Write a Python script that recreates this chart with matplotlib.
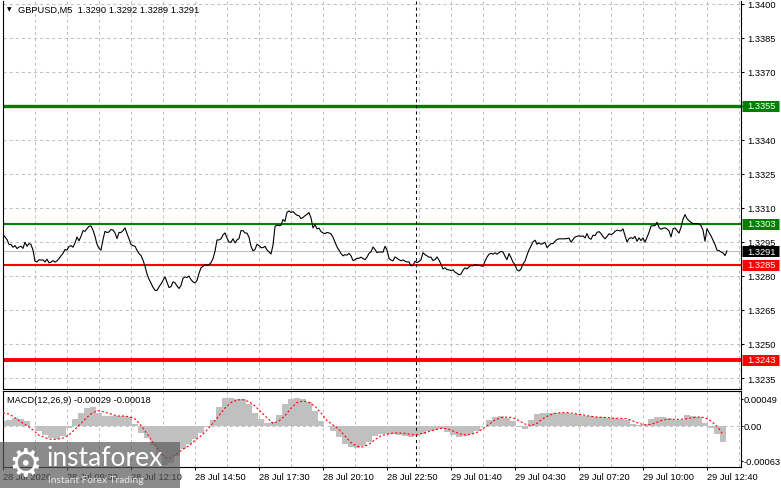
import matplotlib
matplotlib.use("Agg")
import matplotlib.pyplot as plt
import matplotlib.transforms as mtransforms
from matplotlib.patches import Rectangle
import numpy as np

plt.rcParams['font.family'] = ['Liberation Sans', 'DejaVu Sans']
plt.rcParams['lines.scale_dashes'] = False

# ---------------- data ----------------
symbol_title = "GBPUSD,M5  1.3290 1.3292 1.3289 1.3291"
macd_title = "MACD(12,26,9) -0.00029 -0.00018"

close = [
    1.32983, 1.32972, 1.32961, 1.32939, 1.32939, 1.32927, 1.32934, 1.32921, 1.32928, 1.32931,
    1.32922, 1.32949, 1.32931, 1.32943, 1.32939, 1.32914, 1.32865, 1.32862, 1.32872, 1.32870,
    1.32871, 1.32862, 1.32874, 1.32858, 1.32861, 1.32868, 1.32861, 1.32867, 1.32877, 1.32889,
    1.32900, 1.32917, 1.32914, 1.32930, 1.32934, 1.32927, 1.32946, 1.32972, 1.32955, 1.32975,
    1.33000, 1.32997, 1.33009, 1.33019, 1.33021, 1.33002, 1.32975, 1.32940, 1.32922, 1.32914,
    1.32961, 1.32997, 1.32992, 1.32994, 1.33005, 1.33003, 1.32990, 1.32965, 1.32992, 1.32992,
    1.33000, 1.33012, 1.32987, 1.32964, 1.32939, 1.32934, 1.32931, 1.32914, 1.32899, 1.32890,
    1.32870, 1.32843, 1.32809, 1.32786, 1.32768, 1.32750, 1.32737, 1.32736, 1.32752, 1.32765,
    1.32781, 1.32796, 1.32772, 1.32749, 1.32753, 1.32774, 1.32770, 1.32756, 1.32745, 1.32758,
    1.32790, 1.32796, 1.32793, 1.32800, 1.32784, 1.32774, 1.32770, 1.32780, 1.32812, 1.32836,
    1.32843, 1.32850, 1.32847, 1.32850, 1.32859, 1.32877, 1.32909, 1.32959, 1.32959, 1.32964,
    1.32981, 1.32990, 1.32968, 1.32949, 1.32949, 1.32964, 1.32946, 1.32959, 1.32965, 1.33000,
    1.33000, 1.32990, 1.32989, 1.32971, 1.32931, 1.32911, 1.32917, 1.32940, 1.32934, 1.32925,
    1.32925, 1.32931, 1.32915, 1.32906, 1.32897, 1.32936, 1.33019, 1.33024, 1.33022, 1.33024,
    1.33049, 1.33041, 1.33081, 1.33087, 1.33080, 1.33084, 1.33075, 1.33068, 1.33066, 1.33053,
    1.33058, 1.33066, 1.33072, 1.33080, 1.33056, 1.33012, 1.33027, 1.33008, 1.33011, 1.32996,
    1.32990, 1.32987, 1.32992, 1.32990, 1.32986, 1.32971, 1.32949, 1.32928, 1.32914, 1.32899,
    1.32889, 1.32894, 1.32892, 1.32900, 1.32889, 1.32868, 1.32872, 1.32878, 1.32878, 1.32883,
    1.32877, 1.32872, 1.32883, 1.32900, 1.32906, 1.32928, 1.32917, 1.32903, 1.32906, 1.32906,
    1.32905, 1.32931, 1.32914, 1.32878, 1.32870, 1.32867, 1.32884, 1.32878, 1.32872, 1.32867,
    1.32871, 1.32865, 1.32862, 1.32862, 1.32845, 1.32847, 1.32865, 1.32859, 1.32864, 1.32872,
    1.32903, 1.32894, 1.32889, 1.32883, 1.32883, 1.32868, 1.32872, 1.32884, 1.32870, 1.32852,
    1.32831, 1.32836, 1.32828, 1.32827, 1.32824, 1.32827, 1.32817, 1.32812, 1.32805, 1.32809,
    1.32825, 1.32836, 1.32831, 1.32840, 1.32846, 1.32845, 1.32850, 1.32847, 1.32847, 1.32845,
    1.32843, 1.32865, 1.32883, 1.32896, 1.32900, 1.32896, 1.32902, 1.32896, 1.32903, 1.32908,
    1.32906, 1.32887, 1.32872, 1.32899, 1.32881, 1.32861, 1.32850, 1.32827, 1.32822, 1.32831,
    1.32853, 1.32865, 1.32892, 1.32915, 1.32933, 1.32950, 1.32958, 1.32940, 1.32947, 1.32940,
    1.32943, 1.32949, 1.32925, 1.32934, 1.32943, 1.32943, 1.32953, 1.32961, 1.32964, 1.32964,
    1.32964, 1.32964, 1.32965, 1.32967, 1.32949, 1.32961, 1.32972, 1.32975, 1.32977, 1.32975,
    1.32977, 1.32968, 1.32987, 1.32967, 1.32962, 1.32980, 1.32978, 1.32992, 1.32996, 1.32987,
    1.32974, 1.32964, 1.32974, 1.32986, 1.32983, 1.32987, 1.32997, 1.33002, 1.33000, 1.32999,
    1.33008, 1.32978, 1.32950, 1.32965, 1.32969, 1.32965, 1.32975, 1.32953, 1.32968, 1.32956,
    1.32968, 1.32949, 1.32971, 1.32992, 1.33021, 1.33021, 1.33022, 1.33037, 1.33014, 1.33006,
    1.33011, 1.33012, 1.33008, 1.32999, 1.32972, 1.33008, 1.33012, 1.33000, 1.32989, 1.33015,
    1.33050, 1.33071, 1.33053, 1.33044, 1.33037, 1.33031, 1.33031, 1.33031, 1.33030, 1.33022,
    1.33002, 1.32953, 1.33009, 1.32992, 1.32977, 1.32958, 1.32939, 1.32914, 1.32912, 1.32906,
    1.32902, 1.32890, 1.32910,
]

# MACD sampled every 3 bars
macd_step = 3
macd_hist = [
    9.1e-5, 11.5e-5, 14.5e-5, 13.3e-5, 9.1e-5, 0.6e-5, -9.1e-5, -16.3e-5, -21.2e-5, -23.0e-5,
    -18.2e-5, -3.0e-5, 12.1e-5, 23.0e-5, 32.1e-5, 34.5e-5, 24.2e-5, 18.8e-5, 18.2e-5, 18.2e-5,
    18.2e-5, 16.3e-5, 4.2e-5, -12.0e-5, -22.0e-5, -35.0e-5, -55.0e-5, -70.0e-5, -68.0e-5, -55.0e-5,
    -42.0e-5, -33.0e-5, -24.0e-5, -12.0e-5, -1.0e-5, 11.5e-5, 34.5e-5, 51.4e-5, 50.2e-5, 48.4e-5,
    48.4e-5, 40.5e-5, 24.2e-5, 12.1e-5, 5.4e-5, 7.9e-5, 20.0e-5, 40.5e-5, 49.0e-5, 51.4e-5,
    48.4e-5, 43.0e-5, 27.2e-5, 9.1e-5, 0.6e-5, -9.1e-5, -20.0e-5, -32.1e-5, -38.7e-5, -40.5e-5,
    -36.9e-5, -28.4e-5, -19.0e-5, -14.5e-5, -13.9e-5, -14.5e-5, -16.3e-5, -17.5e-5, -19.4e-5, -18.2e-5,
    -13.9e-5, -9.7e-5, -6.7e-5, -4.8e-5, -10.3e-5, -16.3e-5, -19.4e-5, -18.8e-5, -15.1e-5, -9.1e-5,
    -0.6e-5, 11.5e-5, 15.7e-5, 18.2e-5, 15.1e-5, 9.1e-5, -2.4e-5, -4.8e-5, 10.3e-5, 21.2e-5,
    24.2e-5, 24.2e-5, 24.2e-5, 24.2e-5, 23.0e-5, 22.4e-5, 21.2e-5, 18.8e-5, 17.5e-5, 16.3e-5,
    15.7e-5, 15.1e-5, 13.9e-5, 12.1e-5, 10.3e-5, 4.2e-5, 1.2e-5, 3.0e-5, 12.7e-5, 15.7e-5,
    15.7e-5, 13.9e-5, 11.5e-5, 11.5e-5, 19.4e-5, 18.2e-5, 15.7e-5, 6.1e-5, -4.2e-5, -15.1e-5,
    -29.0e-5,
]
macd_signal = [
    24.2e-5, 21.8e-5, 15.1e-5, 7.3e-5, 0.6e-5, -7.3e-5, -16.9e-5, -21.2e-5, -24.2e-5, -24.2e-5,
    -21.8e-5, -16.3e-5, -6.1e-5, 4.8e-5, 15.7e-5, 24.8e-5, 27.8e-5, 24.8e-5, 21.8e-5, 18.2e-5,
    18.2e-5, 16.9e-5, 12.7e-5, 1.0e-5, -14.0e-5, -30.0e-5, -45.0e-5, -57.0e-5, -58.0e-5, -50.0e-5,
    -42.0e-5, -36.0e-5, -26.0e-5, -18.0e-5, -7.0e-5, 5.4e-5, 18.8e-5, 32.7e-5, 42.4e-5, 47.2e-5,
    47.8e-5, 44.2e-5, 36.3e-5, 25.4e-5, 15.1e-5, 4.8e-5, 9.1e-5, 18.8e-5, 32.1e-5, 42.4e-5,
    45.4e-5, 43.0e-5, 35.7e-5, 23.6e-5, 9.7e-5, 1.8e-5, -6.1e-5, -18.2e-5, -30.3e-5, -36.9e-5,
    -38.1e-5, -33.3e-5, -24.8e-5, -17.5e-5, -15.1e-5, -12.7e-5, -12.7e-5, -13.3e-5, -15.7e-5, -15.7e-5,
    -13.3e-5, -9.7e-5, -6.7e-5, -4.2e-5, -4.8e-5, -9.1e-5, -13.9e-5, -16.3e-5, -15.1e-5, -11.5e-5,
    -4.8e-5, 3.0e-5, 10.9e-5, 15.1e-5, 16.3e-5, 15.1e-5, 9.7e-5, 3.6e-5, 0.6e-5, 4.8e-5,
    13.3e-5, 19.4e-5, 23.0e-5, 24.2e-5, 24.2e-5, 23.0e-5, 21.2e-5, 19.4e-5, 17.5e-5, 16.3e-5,
    15.7e-5, 15.1e-5, 13.9e-5, 13.9e-5, 13.3e-5, 9.1e-5, 4.8e-5, 1.8e-5, 3.0e-5, 6.7e-5,
    10.9e-5, 12.1e-5, 12.1e-5, 12.1e-5, 13.3e-5, 15.1e-5, 16.3e-5, 15.1e-5, 9.1e-5, -0.6e-5,
    -15.0e-5,
]

price_ticks = [1.3235, 1.3250, 1.3265, 1.3280, 1.3295, 1.3310, 1.3325, 1.3340, 1.3355, 1.3370, 1.3385, 1.3400]
price_tick_labels = ["1.3235", "1.3250", "1.3265", "1.3280", "1.3295", "1.3310",
                     "1.3325", "1.3340", "1.3355", "1.3370", "1.3385", "1.3400"]
macd_ticks = [-0.00063, 0.0, 0.00049]
macd_tick_labels = ["-0.00063", "0.00", "0.00049"]

time_labels = ["28 Jul 2026", "28 Jul 09:30", "28 Jul 12:10", "28 Jul 14:50", "28 Jul 17:30",
               "28 Jul 20:10", "28 Jul 22:50", "29 Jul 01:40", "29 Jul 04:30", "29 Jul 07:20",
               "29 Jul 10:00", "29 Jul 12:40"]
label_every = 32
grid_every = 16
cursor_bar = 206.5

level_values = [1.3355, 1.3303, 1.3285, 1.3243]
level_labels = ["1.3355", "1.3303", "1.3285", "1.3243"]
level_colors = ["#008000", "#008000", "#FF0000", "#FF0000"]
level_widths = [2.4, 1.5, 1.5, 2.8]
bid_value = 1.3291
bid_label = "1.3291"

# ---------------- layout ----------------
W, H, DPI = 781, 489, 100
FS = 6.7
fig = plt.figure(figsize=(W / DPI, H / DPI), dpi=DPI, facecolor='white')


def fx(px):
    return px / W


def fy(py):
    return 1 - py / H


ax = fig.add_axes([fx(3), fy(390), fx(741) - fx(3), fy(2) - fy(390)])
ax2 = fig.add_axes([fx(3), fy(468), fx(741) - fx(3), fy(392) - fy(468)])

n = len(close)
xbars = np.arange(n)
xmacd = np.arange(0, n, macd_step)[:len(macd_hist)]
XMAX = 369

GRID_KW = dict(color='#C0C0C0', linestyle=(0, (2.2, 2.2)), linewidth=0.75)

# main price panel
ax.set_xlim(0, XMAX)
ax.set_ylim(1.323015, 1.34013)
ax.set_yticks(price_ticks)
ax.set_yticklabels(price_tick_labels)
ax.yaxis.tick_right()
ax.tick_params(axis='y', direction='out', length=2.2, width=0.75, pad=2.2, labelsize=FS)
ax.set_xticks(np.arange(grid_every, XMAX, grid_every))
ax.tick_params(axis='x', length=0, labelbottom=False)
ax.grid(True, **GRID_KW)
ax.set_axisbelow(True)
for s in ['left', 'right', 'bottom']:
    ax.spines[s].set_linewidth(0.8)
ax.spines['top'].set_visible(False)

ax.axhline(bid_value, color='#C0C0C0', lw=0.75, zorder=1.5)
for v, c, w in zip(level_values, level_colors, level_widths):
    ax.axhline(v, color=c, lw=w, zorder=2)
ax.axvline(cursor_bar, color='black', lw=0.75, linestyle=(0, (2.2, 2.2)), zorder=2.5)
ax.plot(xbars, close, color='black', lw=0.8, zorder=3)

blend = mtransforms.blended_transform_factory(ax.transAxes, ax.transData)
bx0 = (742 - 3) / 738
bx1 = (779 - 3) / 738
tx = (747 - 3) / 738
box_vals = level_values + [bid_value]
box_labels = level_labels + [bid_label]
box_colors = level_colors + ['black']
for v, lab, c in zip(box_vals, box_labels, box_colors):
    ax.plot([bx0, bx1], [v, v], transform=blend, color=c, lw=11 * 72 / DPI,
            solid_capstyle='butt', clip_on=False, zorder=6)
    ax.text(tx, v, lab, transform=blend, color='white', fontsize=FS, va='center',
            ha='left', clip_on=False, zorder=7)

# MACD panel
ax2.set_xlim(0, XMAX)
ax2.set_ylim(-0.000744, 0.000635)
ax2.set_yticks(macd_ticks)
ax2.set_yticklabels(macd_tick_labels)
ax2.yaxis.tick_right()
ax2.tick_params(axis='y', direction='out', length=1.5, width=0.75, pad=0.3, labelsize=FS)
ax2.set_xticks(np.arange(0, n, label_every)[:len(time_labels)])
ax2.set_xticklabels(time_labels, ha='left')
ax2.set_xticks(np.arange(grid_every, XMAX, label_every), minor=True)
ax2.tick_params(axis='x', which='major', direction='out', length=2.2, width=0.75, pad=1.2,
                labelsize=FS)
ax2.tick_params(axis='x', which='minor', length=0)
ax2.grid(True, axis='x', which='both', **GRID_KW)
ax2.set_axisbelow(True)
for s in ax2.spines.values():
    s.set_linewidth(0.8)
ax2.axhline(0, zorder=0.5, **GRID_KW)
ax2.bar(xmacd, macd_hist, width=macd_step, color='#C0C0C0', linewidth=0, zorder=2)
ax2.plot(xmacd, macd_signal, color='red', lw=0.8, linestyle=(0, (1.5, 1.5)), zorder=3)
ax2.axvline(cursor_bar, color='black', lw=0.75, linestyle=(0, (2.2, 2.2)), zorder=2.5)

# titles
fig.text(fx(18), fy(10), symbol_title, fontsize=FS, va='center', ha='left')
fig.text(fx(7), fy(10), '\u25bc', family='DejaVu Sans', fontsize=4.2, va='center', ha='left')
fig.text(fx(7), fy(401), macd_title, fontsize=FS, va='center', ha='left')

# watermark
fig.add_artist(Rectangle((0, fy(489)), fx(180), fy(443) - fy(489), transform=fig.transFigure,
                         facecolor='#5a5a5a', alpha=0.7, edgecolor='none', zorder=10))
fig.text(fx(25), fy(466), '\u2699', family='DejaVu Sans', fontsize=27, color='white',
         ha='center', va='center', zorder=11)
fig.text(fx(46), fy(459), 'instaforex', family=['Lato', 'DejaVu Sans'], fontsize=19,
         color='white', ha='left', va='center', zorder=11)
fig.text(fx(48), fy(481), 'Instant Forex Trading', family=['Lato', 'DejaVu Sans'], fontsize=7.3,
         color='#e8e8e8', ha='left', va='center', zorder=11)

fig.savefig('out.png', dpi=DPI, facecolor='white')
